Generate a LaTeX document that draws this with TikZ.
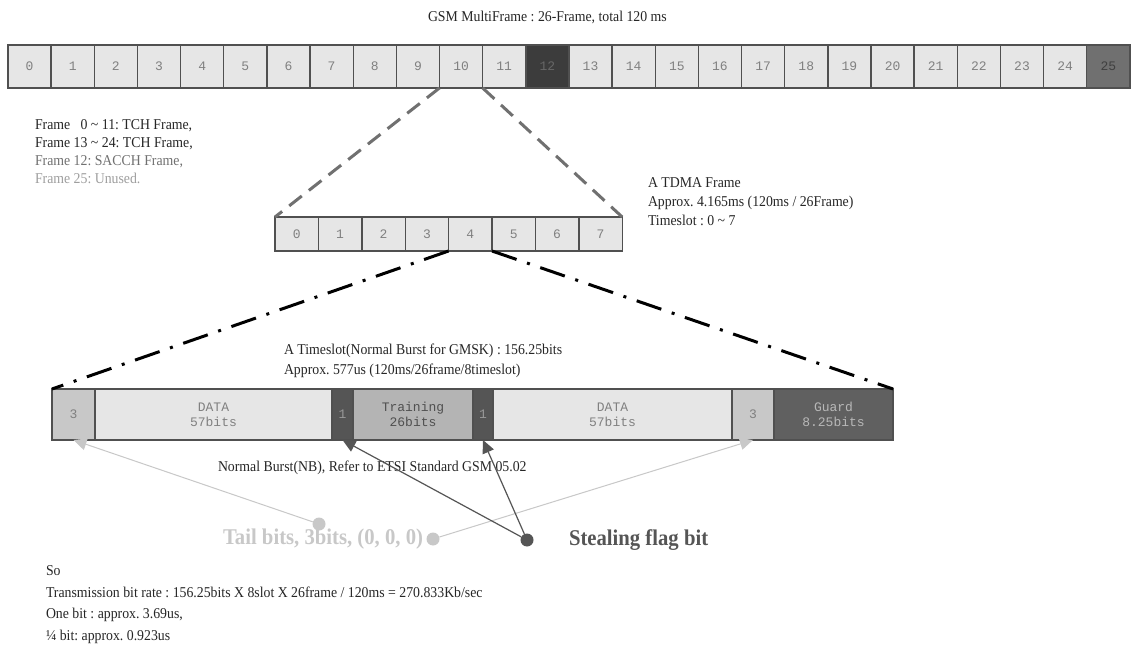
\documentclass[tikz,border=0pt]{standalone}
\usepackage{fontspec}
\setmainfont{Liberation Serif}[FakeStretch=0.92]
\setmonofont{Liberation Mono}
\usetikzlibrary{arrows.meta}
\frenchspacing
\definecolor{cellfill}{HTML}{E6E6E6}
\definecolor{celltext}{HTML}{808080}
\definecolor{cellborder}{HTML}{505050}
\definecolor{darkfill}{HTML}{3C3C3C}
\definecolor{midfill}{HTML}{707070}
\definecolor{tailfill}{HTML}{C8C8C8}
\definecolor{trainfill}{HTML}{B4B4B4}
\definecolor{flagfill}{HTML}{555555}
\definecolor{guardfill}{HTML}{606060}
\definecolor{dashgray}{HTML}{707070}
\definecolor{txtdark}{HTML}{262626}
\begin{document}
\frenchspacing
\begin{tikzpicture}[x=1pt,y=-1pt,
  cell/.style={draw=cellborder, line width=1.4pt, fill=cellfill, text=celltext,
    inner sep=0pt, outer sep=0pt, font=\ttfamily\fontsize{13}{15}\selectfont, align=center},
  topcell/.style={cell, minimum width=43.15pt, minimum height=43pt},
  tdmacell/.style={cell, minimum width=43.4pt, minimum height=34pt},
  burst/.style={cell, minimum height=51pt},
  label/.style={inner sep=0pt, outer sep=0pt, text=txtdark, font=\frenchspacing\fontsize{15}{18}\selectfont, align=left},
  boldlabel/.style={label, font=\frenchspacing\bfseries\fontsize{22.5}{25}\selectfont},
  zoomdash/.style={draw=dashgray, line width=3pt, dash pattern=on 16pt off 9pt},
  zoomdashdot/.style={draw=black, line width=3pt, dash pattern=on 26pt off 11pt on 3pt off 11pt},
  tailline/.style={draw=tailfill, line width=1pt, -{Triangle[length=13pt,width=12pt]}},
  flagline/.style={draw=flagfill, line width=1.2pt, -{Triangle[length=13pt,width=12pt]}},
  dot/.style={circle, inner sep=0pt, minimum size=13pt}
]
\useasboundingbox (0,0) rectangle (1135,652);
\fill[white] (0,0) rectangle (1135,652);

% title
\node[label, anchor=west] (title) at (428,17) {GSM MultiFrame : 26-Frame, total 120 ms};

% multiframe
\foreach \i in {0,...,11,13,14,...,24}
  \node[topcell] (m\i) at ({8+43.15*(\i+0.5)},66.5) {\i};
\node[topcell, fill=darkfill, text=celltext!80!black] (m12) at ({8+43.15*12.5},66.5) {12};
\node[topcell, fill=midfill, text=cellborder!80!black] (m25) at ({8+43.15*25.5},66.5) {25};

% legend
\node[label, anchor=west] (legend) at (35,152) {Frame\ \ \ 0 \textasciitilde{} 11: TCH Frame,\\
Frame 13 \textasciitilde{} 24: TCH Frame,\\
\textcolor{dashgray}{Frame 12: SACCH Frame,}\\
\textcolor{black!38}{Frame 25: Unused.}};

% TDMA frame
\foreach \i in {0,...,7}
  \node[tdmacell] (t\i) at ({275+43.4*(\i+0.5)},234) {\i};

\node[label, anchor=west, font=\frenchspacing\fontsize{15}{19}\selectfont] (tdmatext) at (648,202) {A TDMA Frame\\Approx. 4.165ms (120ms / 26Frame)\\Timeslot : 0 \textasciitilde{} 7};

\draw[zoomdash] (m10.south west) -- (t0.north west);
\draw[zoomdash] (m10.south east) -- (t7.north east);

% timeslot burst
\node[burst, minimum width=43pt, fill=tailfill, anchor=west] (b1) at (52,414.5) {3};
\node[burst, minimum width=237pt, anchor=west] (b2) at (b1.east) {DATA\\57bits};
\node[burst, minimum width=21pt, fill=flagfill, text=black!40, anchor=west] (b3) at (b2.east) {1};
\node[burst, minimum width=120pt, fill=trainfill, text=cellborder, anchor=west] (b4) at (b3.east) {Training\\26bits};
\node[burst, minimum width=20pt, fill=flagfill, text=black!40, anchor=west] (b5) at (b4.east) {1};
\node[burst, minimum width=239pt, anchor=west] (b6) at (b5.east) {DATA\\57bits};
\node[burst, minimum width=42pt, fill=tailfill, anchor=west] (b7) at (b6.east) {3};
\node[burst, minimum width=119pt, fill=guardfill, text=black!28, anchor=west] (b8) at (b7.east) {Guard\\8.25bits};

\draw[zoomdashdot] (t4.south west) -- (b1.north west);
\draw[zoomdashdot] (t4.south east) -- (b8.north east);

\node[label, anchor=west, font=\frenchspacing\fontsize{15}{20}\selectfont] (slottext) at (284,361) {A Timeslot(Normal Burst for GMSK) : 156.25bits\\Approx. 577us (120ms/26frame/8timeslot)};

\node[label, anchor=west] (nbtext) at (218,468) {Normal Burst(NB), Refer to ETSI Standard GSM 05.02};

% markers
\node[dot, fill=tailfill] (tc1) at (319,524) {};
\node[dot, fill=tailfill] (tc2) at (433,539) {};
\node[dot, fill=flagfill] (sc) at (527,540) {};

\draw[tailline] (tc1) -- (b1.south);
\draw[tailline] (tc2) -- (b7.south);
\draw[flagline] (sc) -- (b3.south);
\draw[flagline] (sc) -- (b5.south);

\node[boldlabel, anchor=east, text=tailfill] (tailtext) at (423,539) {Tail bits, 3bits, (0, 0, 0)};
\node[boldlabel, anchor=west, text=flagfill] (flagtext) at (569,540) {Stealing flag bit};

% summary
\node[label, anchor=west, font=\frenchspacing\fontsize{15}{21.5}\selectfont] (summary) at (46,604.5) {So\\
Transmission bit rate : 156.25bits X 8slot X 26frame / 120ms = 270.833Kb/sec\\
One bit : approx. 3.69us,\\
¼ bit: approx. 0.923us};
\end{tikzpicture}
\end{document}
